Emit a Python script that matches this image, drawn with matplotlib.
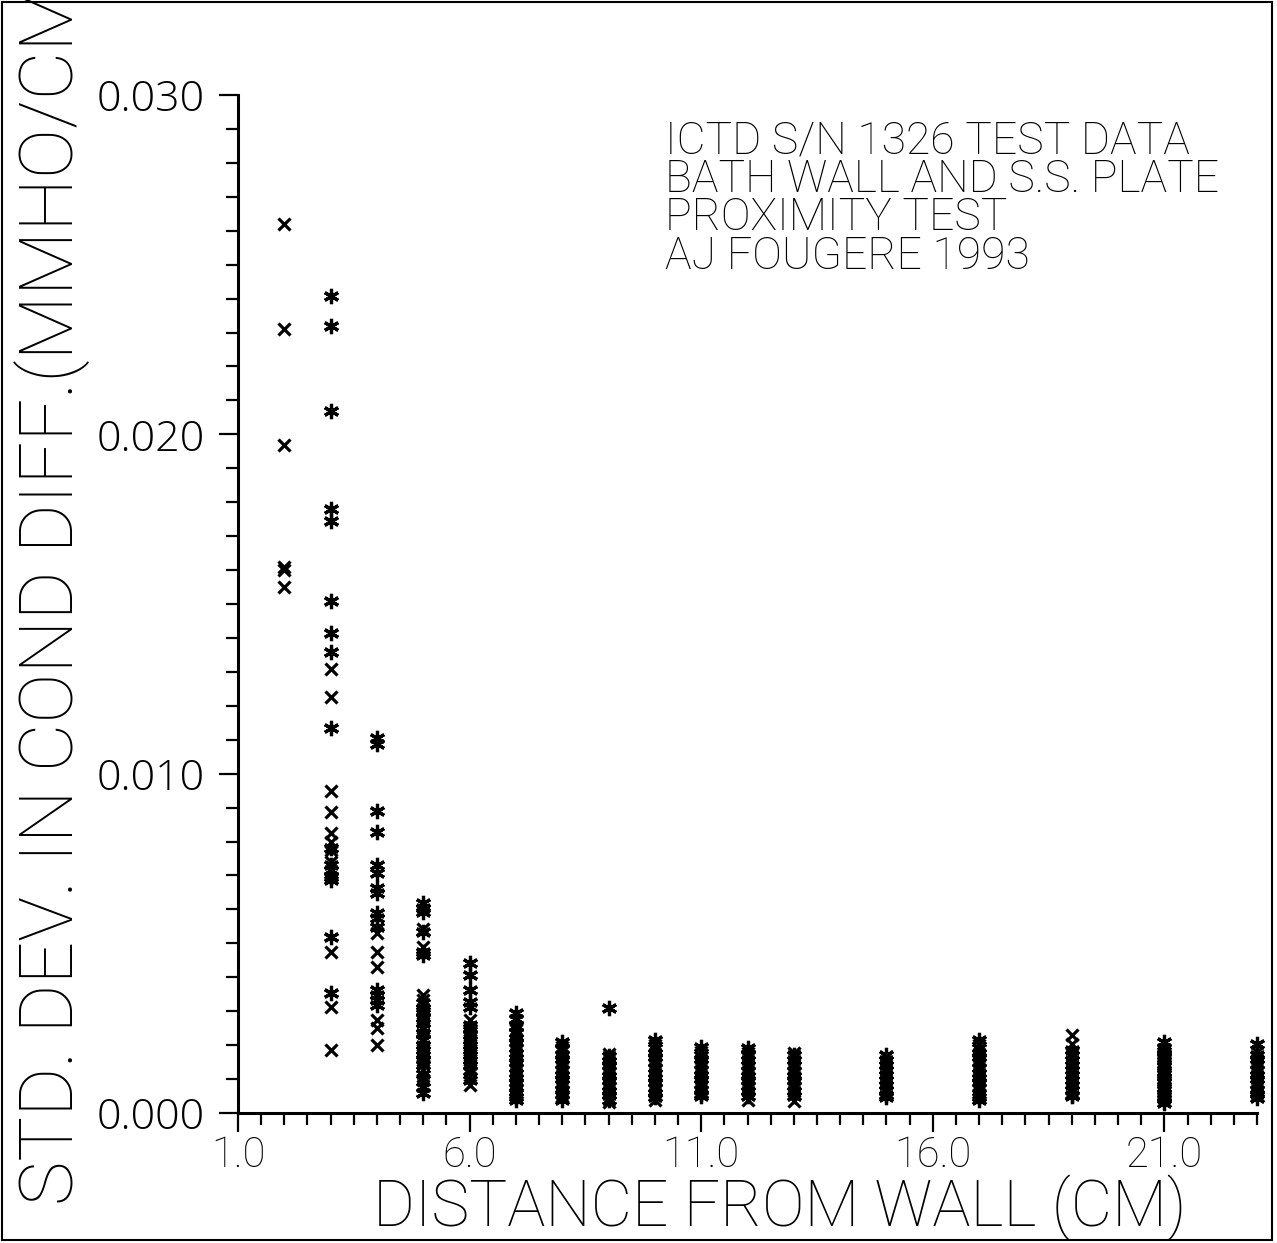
import numpy as np
import matplotlib
matplotlib.use('Agg')
import matplotlib.pyplot as plt
from matplotlib.patches import Rectangle
from matplotlib.ticker import MultipleLocator, FixedLocator

# Distances (cm) at which the probe was tested
distances = [2, 3, 4, 5, 6, 7, 8, 9, 10, 11, 12, 13, 15, 17, 19, 21, 23]

# Std. dev. values plotted with 'x' markers, one list per distance
cross_std = [
    [0.0262, 0.0231, 0.0197, 0.0161, 0.0160, 0.0155],
    [0.01307, 0.01227, 0.00950, 0.00888, 0.00826, 0.00799, 0.00776, 0.00740, 0.00475, 0.00313, 0.00186],
    [0.00531, 0.00475, 0.00431, 0.00274, 0.00251, 0.00201],
    [0.00543, 0.00490, 0.00348, 0.00333, 0.00295, 0.00270, 0.00251, 0.00215, 0.00192, 0.00170,
     0.00150, 0.00127, 0.00110, 0.00097],
    [0.00274, 0.00245, 0.00215, 0.00200, 0.00186, 0.00170, 0.00156, 0.00133, 0.00120, 0.00083],
    [0.00245, 0.00230, 0.00215, 0.00201, 0.00186, 0.00171, 0.00156, 0.00142, 0.00127, 0.00112,
     0.00097, 0.00083, 0.00068, 0.00056],
    [0.00195, 0.00180, 0.00165, 0.00150, 0.00136, 0.00121, 0.00106, 0.00091, 0.00077, 0.00062, 0.00050],
    [0.00174, 0.00160, 0.00147, 0.00132, 0.00118, 0.00103, 0.00088, 0.00074, 0.00059, 0.00045, 0.00032],
    [0.00201, 0.00186, 0.00171, 0.00156, 0.00142, 0.00127, 0.00112, 0.00097, 0.00083, 0.00068,
     0.00053, 0.00038],
    [0.00180, 0.00165, 0.00150, 0.00136, 0.00121, 0.00106, 0.00091, 0.00077, 0.00062],
    [0.00177, 0.00162, 0.00147, 0.00133, 0.00118, 0.00103, 0.00088, 0.00074, 0.00056, 0.00038],
    [0.00177, 0.00162, 0.00147, 0.00133, 0.00118, 0.00103, 0.00088, 0.00074, 0.00056, 0.00035],
    [0.00164, 0.00149, 0.00134, 0.00120, 0.00105, 0.00090, 0.00075, 0.00061],
    [0.00201, 0.00186, 0.00171, 0.00156, 0.00142, 0.00127, 0.00112, 0.00097, 0.00083, 0.00068, 0.00056],
    [0.00230, 0.00204, 0.00178, 0.00164, 0.00149, 0.00134, 0.00120, 0.00105, 0.00090, 0.00075, 0.00061],
    [0.00177, 0.00130, 0.00083],
    [0.00180, 0.00165, 0.00150, 0.00136, 0.00121, 0.00106, 0.00091, 0.00077, 0.00062, 0.00050],
]

# Std. dev. values plotted with asterisk markers, one list per distance
star_std = [
    [],
    [0.02407, 0.02319, 0.02068, 0.01779, 0.01746, 0.01510, 0.01416, 0.01360, 0.01136,
     0.00782, 0.00732, 0.00717, 0.00696, 0.00687, 0.00519, 0.00354],
    [0.01106, 0.01086, 0.00891, 0.00829, 0.00732, 0.00708, 0.00664, 0.00649, 0.00590,
     0.00575, 0.00549, 0.00363, 0.00348, 0.00333, 0.00319],
    [0.00619, 0.00605, 0.00593, 0.00534, 0.00475, 0.00466, 0.00324, 0.00310, 0.00300, 0.00280,
     0.00265, 0.00250, 0.00236, 0.00215, 0.00200, 0.00185, 0.00171, 0.00160, 0.00140, 0.00115,
     0.00077, 0.00059],
    [0.00442, 0.00407, 0.00363, 0.00327, 0.00313, 0.00260, 0.00250, 0.00230, 0.00215, 0.00201,
     0.00185, 0.00171, 0.00155, 0.00142, 0.00125, 0.00097],
    [0.00295, 0.00277, 0.00257, 0.00236, 0.00222, 0.00208, 0.00193, 0.00178, 0.00163, 0.00149,
     0.00134, 0.00119, 0.00104, 0.00090, 0.00075, 0.00061, 0.00046, 0.00038],
    [0.00209, 0.00188, 0.00172, 0.00158, 0.00143, 0.00128, 0.00113, 0.00099, 0.00084, 0.00069,
     0.00055, 0.00038],
    [0.00310, 0.00168, 0.00154, 0.00140, 0.00125, 0.00110, 0.00096, 0.00081, 0.00066, 0.00052, 0.00038],
    [0.00215, 0.00193, 0.00178, 0.00164, 0.00149, 0.00134, 0.00119, 0.00104, 0.00090, 0.00075,
     0.00060, 0.00046],
    [0.00195, 0.00172, 0.00158, 0.00143, 0.00128, 0.00113, 0.00099, 0.00084, 0.00069, 0.00055, 0.00050],
    [0.00192, 0.00170, 0.00155, 0.00140, 0.00125, 0.00110, 0.00096, 0.00081, 0.00066, 0.00050],
    [0.00170, 0.00155, 0.00140, 0.00125, 0.00110, 0.00096, 0.00081, 0.00066, 0.00050],
    [0.00171, 0.00156, 0.00142, 0.00127, 0.00112, 0.00097, 0.00083, 0.00068, 0.00054, 0.00047],
    [0.00215, 0.00193, 0.00178, 0.00164, 0.00149, 0.00134, 0.00119, 0.00104, 0.00090, 0.00075,
     0.00046, 0.00038],
    [0.00186, 0.00171, 0.00156, 0.00142, 0.00127, 0.00112, 0.00097, 0.00083, 0.00068, 0.00054, 0.00050],
    [0.00209, 0.00192, 0.00184, 0.00170, 0.00162, 0.00153, 0.00145, 0.00138, 0.00122, 0.00115,
     0.00107, 0.00097, 0.00090, 0.00075, 0.00068, 0.00060, 0.00050, 0.00040, 0.00029],
    [0.00204, 0.00172, 0.00158, 0.00143, 0.00128, 0.00113, 0.00099, 0.00084, 0.00069, 0.00055, 0.00044],
]

x_ticks = [1.0, 6.0, 11.0, 16.0, 21.0]
y_ticks = [0.000, 0.010, 0.020, 0.030]
title_lines = ['ICTD S/N 1326 TEST DATA', 'BATH WALL AND S.S. PLATE',
               'PROXIMITY TEST', 'AJ FOUGERE 1993']

plt.rcParams['font.family'] = 'Roboto'
plt.rcParams['font.weight'] = 'light'

W, H = 1277, 1243
fig = plt.figure(figsize=(W / 100, H / 100), dpi=100)
ax = fig.add_axes([238 / W, 1 - 1113 / H, (1257 - 238) / W, (1113 - 95) / H])

# flatten the per-distance lists
cx = [d for d, v in zip(distances, cross_std) for _ in v]
cy = [y for v in cross_std for y in v]
sx = [d for d, v in zip(distances, star_std) for _ in v]
sy = [y for v in star_std for y in v]

ax.plot(cx, cy, ls='none', marker='x', ms=9, mew=2.3, color='black', clip_on=False)
ax.plot(sx, sy, ls='none', marker=(6, 2, 0), ms=11, mew=2.3, color='black', clip_on=False)

ax.set_xlim(1, 23)
ax.set_ylim(0, 0.030)

for s in ['top', 'right']:
    ax.spines[s].set_visible(False)
for s in ['left', 'bottom']:
    ax.spines[s].set_linewidth(2.2)

ax.xaxis.set_major_locator(FixedLocator(x_ticks))
ax.xaxis.set_minor_locator(MultipleLocator(0.5))
ax.yaxis.set_major_locator(FixedLocator(y_ticks))
ax.yaxis.set_minor_locator(MultipleLocator(0.001))
ax.set_xticklabels([f'{t:.1f}' for t in x_ticks])
ax.set_yticklabels([f'{t:.3f}' for t in y_ticks], family='Open Sans', weight='light')

ax.tick_params(axis='both', which='major', direction='out', length=14, width=1.6)
ax.tick_params(axis='both', which='minor', direction='out', length=8.5, width=1.6)
ax.tick_params(axis='x', which='major', labelsize=30, pad=2)
ax.tick_params(axis='y', which='major', labelsize=31, pad=10)

# axis titles (y title runs off the top edge, as in the original plot)
fig.text(780 / W, 1 - 1226 / H, 'DISTANCE FROM WALL (CM)', fontsize=46,
         ha='center', va='baseline')
fig.text(73 / W, 1 - 1205 / H, 'STD. DEV. IN COND DIFF.(MMHO/CM)', fontsize=54,
         rotation=90, rotation_mode='anchor', ha='left', va='baseline')

# annotation block
fig.text(665 / W, 1 - 120 / H, '\n'.join(title_lines), fontsize=32, linespacing=0.88,
         ha='left', va='top')

# frame around whole figure
fig.patches.append(Rectangle((2 / W, 3 / H), (1270 / W), (1238 / H), transform=fig.transFigure,
                             fill=False, edgecolor='black', linewidth=1.5))

fig.savefig('out.png', dpi=100)
